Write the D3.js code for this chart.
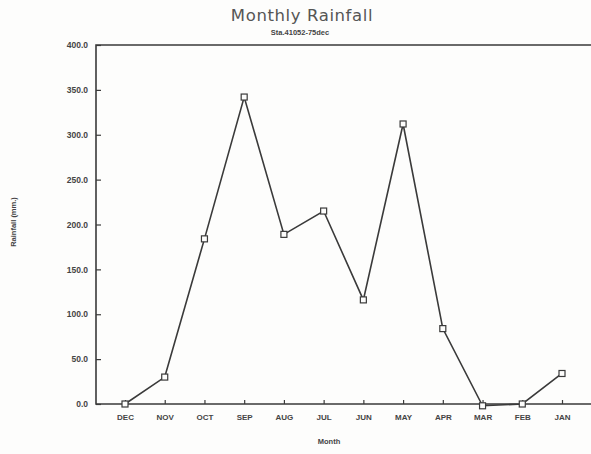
<!DOCTYPE html>
<html><head><meta charset="utf-8">
<script src="https://cdn.jsdelivr.net/npm/d3@7"></script>
<style>body{margin:0;background:#fdfdfc;}svg{display:block;}</style>
</head><body>
<script>
const months = ["DEC","NOV","OCT","SEP","AUG","JUL","JUN","MAY","APR","MAR","FEB","JAN"];
const rainfall = [0, 30, 184, 342, 189, 215, 116, 312, 84, -2, 0, 34];
const yTicks = [0, 50, 100, 150, 200, 250, 300, 350, 400];
const titleText = "Monthly Rainfall";
const subtitleText = "Sta.41052-75dec";
const xTitle = "Month";
const yTitle = "Rainfall (mm.)";

const W = 591, H = 454;
const svg = d3.select("body").append("svg").attr("width", W).attr("height", H);
const mLeft = 96, mTop = 45, mBottom = 404, mRight = 600;
const x = d3.scalePoint().domain(months).range([125, 562]);
const y = d3.scaleLinear().domain([0, 400]).range([mBottom, mTop]);
const ink = "#3a3a3a";

// frame
svg.append("path").attr("d", `M${mRight},${mTop}H${mLeft}V${mBottom}H${mRight}`)
  .attr("fill","none").attr("stroke", ink).attr("stroke-width", 1.6);

// y axis
const ya = svg.append("g").attr("transform", `translate(${mLeft},0)`)
  .call(d3.axisLeft(y).tickValues(yTicks).tickSize(-5).tickPadding(8).tickFormat(d3.format(".1f")));
ya.select(".domain").remove();
ya.selectAll("line").attr("stroke", ink).attr("stroke-width", 1.2);
ya.selectAll("text").attr("font-family","Liberation Sans, Arial, sans-serif").attr("font-size", 8.5)
  .attr("font-weight","bold").attr("fill","#444");

// x axis
const xa = svg.append("g").attr("transform", `translate(0,${mBottom})`)
  .call(d3.axisBottom(x).tickSize(-4).tickPadding(10));
xa.select(".domain").remove();
xa.selectAll("line").attr("stroke", ink).attr("stroke-width", 1.2);
xa.selectAll("text").attr("font-family","Liberation Sans, Arial, sans-serif").attr("font-size", 8)
  .attr("font-weight","bold").attr("fill","#444");

// line
const line = d3.line().x((d,i)=>x(months[i])).y(d=>y(d));
svg.append("path").datum(rainfall).attr("d", line).attr("fill","none")
  .attr("stroke", ink).attr("stroke-width", 1.6).attr("stroke-linejoin","miter");

svg.selectAll("rect.m").data(rainfall).join("rect").attr("class","m")
  .attr("x",(d,i)=>x(months[i])-3).attr("y",d=>y(d)-3).attr("width",6).attr("height",6)
  .attr("fill","#fdfdfc").attr("stroke", ink).attr("stroke-width",1.2);

// titles
svg.append("text").attr("x", 302).attr("y", 21).attr("text-anchor","middle")
  .attr("font-family","DejaVu Sans, sans-serif").attr("font-size", 16.5).attr("fill","#555")
  .attr("letter-spacing", 0.6).text(titleText);
svg.append("text").attr("x", 300).attr("y", 35).attr("text-anchor","middle")
  .attr("font-family","Liberation Sans, Arial, sans-serif").attr("font-size", 7.5).attr("font-weight","bold")
  .attr("fill","#444").text(subtitleText);
svg.append("text").attr("x", 329).attr("y", 444).attr("text-anchor","middle")
  .attr("font-family","Liberation Sans, Arial, sans-serif").attr("font-size", 7.5).attr("font-weight","bold")
  .attr("fill","#444").text(xTitle);
svg.append("text").attr("transform","translate(16,222) rotate(-90)").attr("text-anchor","middle")
  .attr("font-family","Liberation Sans, Arial, sans-serif").attr("font-size", 7.5).attr("font-weight","bold")
  .attr("fill","#444").text(yTitle);
</script>
</body></html>
